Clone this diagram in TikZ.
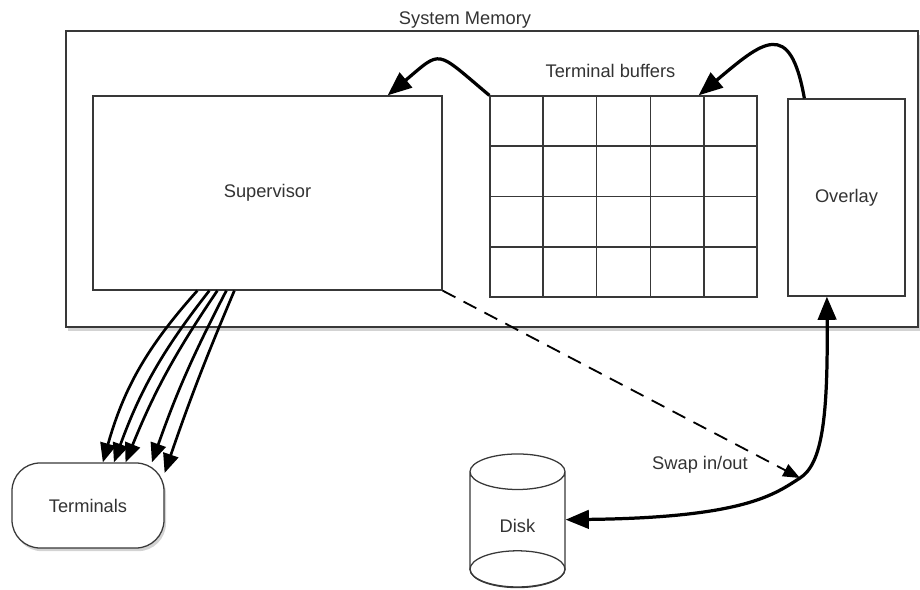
\documentclass[tikz,border=0pt]{standalone}
\usepackage{fontspec}
\setmainfont{Liberation Sans}
\usetikzlibrary{positioning,arrows.meta,shapes.geometric,shadows,calc}
\colorlet{lineC}{black!78}
\colorlet{textC}{black!80}
\tikzset{
  box/.style={draw=lineC, line width=0.9pt, fill=white, text=textC,
    font=\fontsize{13}{15}\selectfont, inner sep=0pt},
  memory/.style={box, line width=1.1pt,
    drop shadow={opacity=0.35, shadow xshift=0.6mm, shadow yshift=-1mm}},
  term/.style={box, rounded corners=7mm,
    drop shadow={opacity=0.35, shadow xshift=0.5mm, shadow yshift=-0.8mm}},
  store/.style={box, cylinder, shape border rotate=90, aspect=1.0},
  lbl/.style={text=textC, font=\fontsize{13}{15}\selectfont, inner sep=0pt},
  bigflow/.style={-{Triangle[length=6mm,width=4.8mm]}, line width=2.3pt},
  ttyflow/.style={-{Triangle[length=4.8mm,width=3.9mm]}, line width=1.9pt},
  swapflow/.style={{Triangle[length=5.8mm,width=4.6mm]}-{Triangle[length=5.8mm,width=4.6mm]},
    line width=2.3pt},
  dashflow/.style={-{Triangle[length=4.2mm,width=3.3mm]}, line width=1.3pt,
    dash pattern=on 3.6mm off 2.3mm},
}
\begin{document}
\begin{tikzpicture}
  \useasboundingbox (0,0) rectangle (23,14.75);
  % memory and what sits in it
  \node[memory, minimum width=21.3cm, minimum height=7.4cm] (memory) at (12.3,10.275) {};
  \node[lbl, anchor=base] (memlbl) at ([xshift=-6.75mm,yshift=1.4mm]memory.north) {System Memory};
  \node[box, minimum width=8.725cm, minimum height=4.85cm] (super) at (6.6875,9.925) {Supervisor};
  \node[box, minimum width=6.675cm, minimum height=5.025cm] (buffers) at (15.5875,9.8375) {};
  \foreach \i in {1,...,4}
    \draw[lineC, line width=0.9pt] ($(buffers.north west)!\i/5!(buffers.north east)$)
      -- ($(buffers.south west)!\i/5!(buffers.south east)$);
  \foreach \j in {1,2,3}
    \draw[lineC, line width=0.9pt] ($(buffers.north west)!\j/4!(buffers.south west)$)
      -- ($(buffers.north east)!\j/4!(buffers.south east)$);
  \node[lbl, above=4.4mm of buffers.north, xshift=-3.25mm] (buflbl) {Terminal buffers};
  \node[box, minimum width=2.925cm, minimum height=4.925cm] (overlay) at (21.1625,9.8125) {Overlay};
  % outside
  \node[term, minimum width=3.8cm, minimum height=2.125cm] (terminals) at (2.2,2.1125) {Terminals};
  \node[store, minimum width=2.375cm, minimum height=3.325cm, anchor=south] (disk) at (12.9375,0.06)
    {\raisebox{2mm}{Disk}};
  % back half of the disk's bottom rim, same radii as the top one
  \draw[lineC, line width=0.9pt] let \p1=($(disk.before top)!0.5!(disk.after top)$),
    \p2=(disk.north), \p3=(disk.south) in
    (\x3,\y3+\y2-\y1) ellipse [x radius=11.875mm, y radius={\y2-\y1}];
  \coordinate (swap) at (20.0,2.8);
  \node[lbl, left=13mm of swap, yshift=3.3mm] (swaplbl) {Swap in/out};
  % connectors
  \draw[bigflow] (buffers.north west) to[out=140, in=40, looseness=1.8]
    ([xshift=-13.75mm]super.north east);
  \draw[bigflow] ([xshift=4.25mm]overlay.north west) to[out=100, in=40, looseness=2]
    ([xshift=-14.75mm]buffers.north east);
  \foreach \sx/\ang/\bnd in {26.25/71/13, 29.25/59/9, 31.25/49/6, 33.5/34/4, 35.5/23/2}
    \draw[ttyflow] ([xshift=\sx mm]super.south west) to[bend right=\bnd] (terminals.\ang);
  \draw[dashflow] (super.south east) -- (swap);
  \draw[swapflow] ([yshift=2.5mm]disk.east) .. controls +(4.5cm,0.05cm) and +(-0.625cm,-0.4cm) .. (swap)
    .. controls +(0.55cm,0.35cm) and +(0.03cm,-3.05cm) .. ([xshift=-4.9mm]overlay.south);
\end{tikzpicture}
\end{document}
